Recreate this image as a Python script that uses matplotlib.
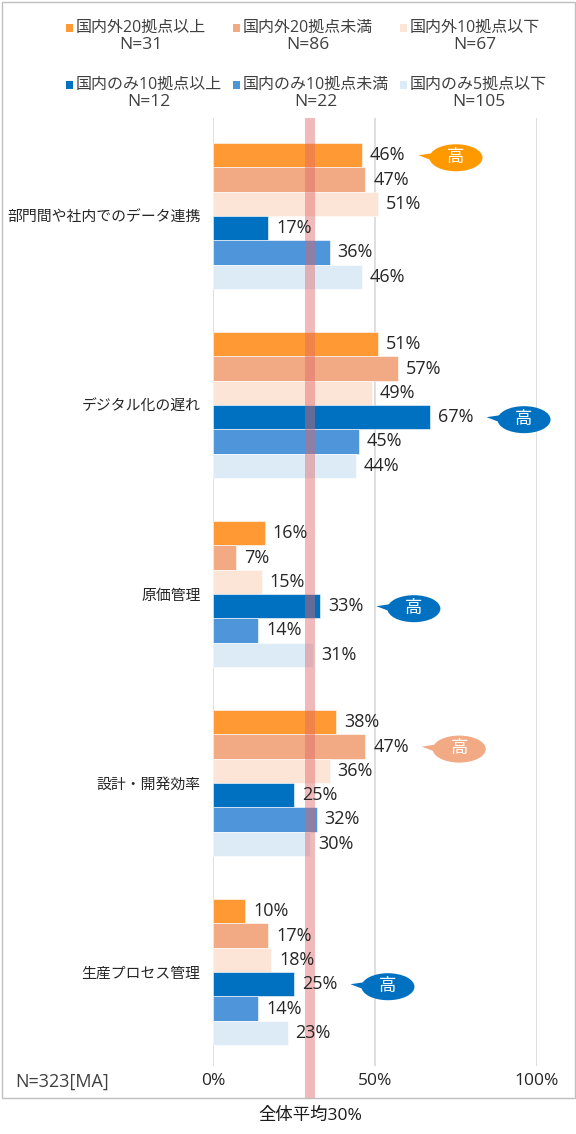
import matplotlib.pyplot as plt
from matplotlib.patches import Ellipse, Polygon, Rectangle
import numpy as np

plt.rcParams['font.family'] = ['Open Sans', 'Noto Sans CJK JP', 'DejaVu Sans']

# --- data ---
categories = ['部門間や社内でのデータ連携', 'デジタル化の遅れ', '原価管理',
              '設計・開発効率', '生産プロセス管理']
series_names = ['国内外20拠点以上', '国内外20拠点未満', '国内外10拠点以下',
                '国内のみ10拠点以上', '国内のみ10拠点未満', '国内のみ5拠点以下']
series_n = [31, 86, 67, 12, 22, 105]

over20 = [46, 51, 16, 38, 10]
under20 = [47, 57, 7, 47, 17]
upto10 = [51, 49, 15, 36, 18]
dom_over10 = [17, 67, 33, 25, 25]
dom_under10 = [36, 45, 14, 32, 14]
dom_upto5 = [46, 44, 31, 30, 23]
series_values = [over20, under20, upto10, dom_over10, dom_under10, dom_upto5]

highlight = [0, 3, 3, 1, 3]   # series marked "高" in each category
average = 30
total_n = 323

colors = ['#FF9933', '#F2AA84', '#FCE4D6', '#0070C0', '#4E95D9', '#DDEBF7']
bubble_colors = ['#FF9900', '#F2AA84', '#FCE4D6', '#0070C0', '#4E95D9', '#DDEBF7']

W, H = 576, 1134
fig = plt.figure(figsize=(W / 100, H / 100), dpi=100)


def fx(x):
    return x / W


def fy(y):
    return 1 - y / H


# axes box in pixels: x 213..537 (0..100%), y 118..1066
ax = fig.add_axes([fx(213), fy(1066), 324 / W, 948 / H])
ax.set_xlim(0, 100)
ax.set_ylim(4.497, -0.5185)

px_x = 324 / 100      # pixels per %
px_y = 948 / (4.497 + 0.5185)  # pixels per category step
bar_h = 24.3 / px_y

y = np.arange(len(categories))
for i, vals in enumerate(series_values):
    ypos = y + (i - 2.5) * bar_h
    ax.barh(ypos, vals, height=bar_h, color=colors[i], edgecolor='white',
            linewidth=0.4, zorder=2)
    for yy, v in zip(ypos, vals):
        ax.text(v + 8 / px_x, yy, f'{v}%', va='center', ha='left',
                fontsize=13, color='#262626', zorder=5)

# "高" callouts
for c, s in enumerate(highlight):
    v = series_values[s][c]
    by = c + (s - 2.5) * bar_h
    cx = v + 29
    cy = by + 2.5 / px_y
    w = 53 / px_x
    h = 27 / px_y
    left = cx - w / 2
    tail = Polygon([(left - 11 / px_x, by),
                    (left + 10 / px_x, by - 3 / px_y),
                    (left + 10 / px_x, by + 8 / px_y)],
                   closed=True, fc=bubble_colors[s], ec='none',
                   clip_on=False, zorder=5)
    ax.add_patch(tail)
    ax.add_patch(Ellipse((cx, cy), w, h, fc=bubble_colors[s], ec='none',
                         clip_on=False, zorder=5))
    ax.text(cx, cy, '高', ha='center', va='center', color='white',
            fontsize=12.5, zorder=6)

# average line
ax.axvline(average, ymin=-(1098 - 1066) / 948, ymax=1, color='#E06666',
           alpha=0.45, lw=7.2, clip_on=False, zorder=3,
           solid_capstyle='butt')

ax.set_xticks([0, 50, 100], ['0%', '50%', '100%'])
ax.set_yticks(y, categories)
ax.tick_params(axis='x', length=0, pad=5, labelsize=12.5, labelcolor='#262626')
ax.tick_params(axis='y', length=0, pad=9, labelsize=10.7, labelcolor='#262626')
ax.grid(axis='x', color='#D9D9D9', lw=1.2, zorder=0)
ax.set_axisbelow(True)
for sp in ax.spines.values():
    sp.set_visible(False)

# legend (3 x 2)
renderer = fig.canvas.get_renderer()
col_marker = [66, 233, 400]
row_y = [28, 85]
for i, name in enumerate(series_names):
    col, row = i % 3, i // 3
    mx = col_marker[col]
    ty = row_y[row]
    fig.patches.append(Rectangle((fx(mx), fy(ty + 3.5)), 7 / W, 7 / H,
                                 transform=fig.transFigure, fc=colors[i],
                                 ec='none'))
    t = fig.text(fx(mx + 10), fy(ty), name, ha='left', va='center',
                 fontsize=11.5, color='#404040')
    bb = t.get_window_extent(renderer)
    fig.text((bb.x0 + bb.x1) / 2 / W, fy(ty + 17), f'N={series_n[i]}',
             ha='center', va='center', fontsize=12.5, color='#404040')

fig.text(fx(15), fy(1082), f'N={total_n}[MA]', ha='left', va='center',
         fontsize=13, color='#404040')
fig.text(fx(213 + average * px_x), fy(1116), f'全体平均{average}%',
         ha='center', va='center', fontsize=12.5, color='#1a1a1a')

fig.patches.append(Rectangle((fx(1.5), fy(1098)), 573 / W, 1096.5 / H,
                             transform=fig.transFigure, fill=False,
                             ec='#BFBFBF', lw=1))

fig.savefig('out.png', dpi=100)
